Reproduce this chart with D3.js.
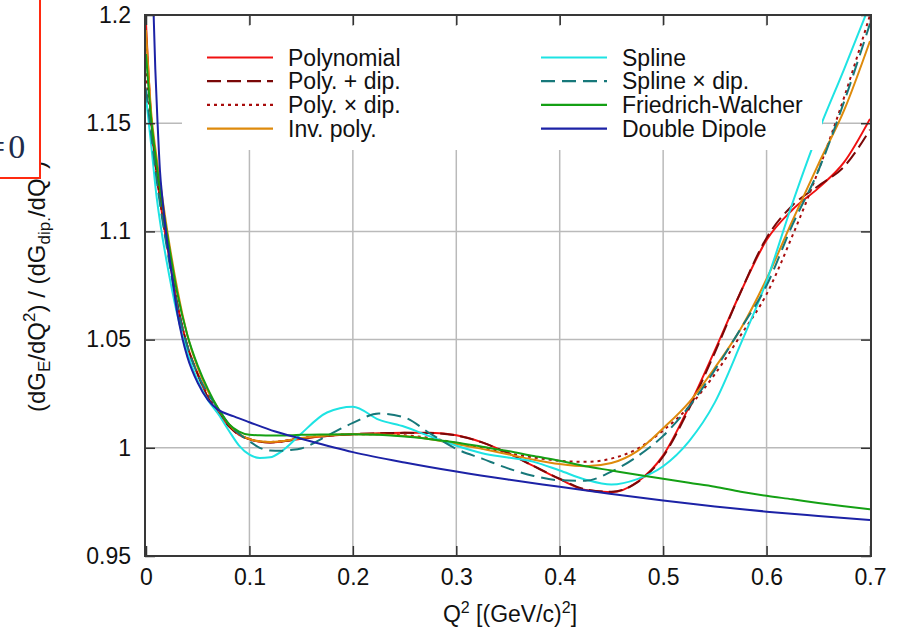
<!DOCTYPE html>
<meta charset="utf-8">
<style>
body { margin: 0; background: #fff; }
svg { display: block; font-family: "Liberation Sans", Arial, sans-serif; }
.grid line { stroke: #bababa; stroke-width: 1.5; }
.curve { fill: none; stroke-width: 2; stroke-linejoin: round; }
.axis text { font-size: 23px; fill: #111; }
.axis line { stroke: #333; stroke-width: 1.5; }
</style>
<body>
<svg width="902" height="631"></svg>
<script src="https://d3js.org/d3.v7.min.js"></script>
<script>

// Q^2 grid shared by the fitted curves
var q = [0, 0.005, 0.01, 0.015, 0.02, 0.03, 0.04, 0.05, 0.06, 0.07,
         0.08, 0.09, 0.1, 0.11, 0.12, 0.13, 0.14, 0.15, 0.175, 0.2,
         0.225, 0.25, 0.275, 0.3, 0.325, 0.35, 0.375, 0.4, 0.425, 0.45,
         0.475, 0.5, 0.525, 0.55, 0.575, 0.6, 0.625, 0.65, 0.675, 0.7];

var polynomial = [1.196, 1.152, 1.128, 1.110, 1.095, 1.067, 1.047, 1.034, 1.023, 1.016,
                  1.010, 1.006, 1.004, 1.0028, 1.0025, 1.0028, 1.0035, 1.0042, 1.0055, 1.0063,
                  1.0067, 1.0070, 1.0069, 1.0058, 1.0025, 0.9975, 0.9915, 0.9855, 0.9805, 0.9795,
                  0.9842, 0.9965, 1.019, 1.045, 1.072, 1.096, 1.110, 1.120, 1.132, 1.152];

var polyPlusDip = [1.190, 1.152, 1.128, 1.110, 1.095, 1.067, 1.047, 1.034, 1.023, 1.016,
                   1.010, 1.006, 1.004, 1.0028, 1.0025, 1.0028, 1.0035, 1.0042, 1.0055, 1.0063,
                   1.0067, 1.0069, 1.0068, 1.0057, 1.0025, 0.9975, 0.9915, 0.9857, 0.9808, 0.9797,
                   0.9840, 0.9960, 1.018, 1.044, 1.072, 1.097, 1.112, 1.121, 1.130, 1.147];

var polyTimesDip = [1.173, 1.148, 1.127, 1.110, 1.095, 1.067, 1.047, 1.034, 1.024, 1.017,
                    1.011, 1.0065, 1.004, 1.003, 1.0027, 1.003, 1.0037, 1.0045, 1.0057, 1.0063,
                    1.0063, 1.0058, 1.0045, 1.0022, 0.9998, 0.9975, 0.9955, 0.994, 0.9935, 0.995,
                    0.9995, 1.008, 1.019, 1.034, 1.052, 1.071, 1.098, 1.128, 1.162, 1.200];

var invPoly = [1.193, 1.155, 1.135, 1.118, 1.102, 1.074, 1.052, 1.037, 1.026, 1.018,
               1.011, 1.0065, 1.004, 1.003, 1.0027, 1.003, 1.0037, 1.0045, 1.0057, 1.0063,
               1.0062, 1.0055, 1.004, 1.0018, 0.9995, 0.997, 0.9945, 0.9925, 0.9915, 0.993,
               0.9985, 1.009, 1.021, 1.037, 1.055, 1.078, 1.105, 1.131, 1.156, 1.188];

var spline = [1.162, 1.140, 1.117, 1.100, 1.086, 1.062, 1.044, 1.031, 1.022, 1.0155,
              1.008, 1.001, 0.9968, 0.9953, 0.9956, 0.998, 1.002, 1.0065, 1.0163, 1.019,
              1.013, 1.0097, 1.0052, 1.001, 0.9975, 0.9955, 0.9935, 0.9895, 0.9853, 0.983,
              0.9855, 0.9915, 1.003, 1.021, 1.048, 1.077, 1.113, 1.146, 1.175, 1.205];

var splineTimesDip = [1.166, 1.145, 1.125, 1.108, 1.093, 1.066, 1.047, 1.034, 1.025, 1.018,
                      1.011, 1.0065, 1.003, 1.0, 0.9987, 0.9986, 0.999, 0.9997, 1.0055, 1.0115,
                      1.0158, 1.014, 1.0065, 0.9995, 0.995, 0.9905, 0.987, 0.985, 0.9848, 0.989,
                      0.996, 1.0055, 1.019, 1.036, 1.055, 1.075, 1.103, 1.128, 1.160, 1.196];

var friedrichWalcher = [1.182, 1.152, 1.132, 1.115, 1.100, 1.072, 1.052, 1.038, 1.027, 1.018,
                        1.011, 1.0075, 1.006, 1.0058, 1.0057, 1.0057, 1.0058, 1.006, 1.0062, 1.0063,
                        1.006, 1.0052, 1.004, 1.0025, 1.0005, 0.9985, 0.9962, 0.994, 0.9915, 0.9895,
                        0.9875, 0.9857, 0.9838, 0.982, 0.9797, 0.9778, 0.9762, 0.9745, 0.973, 0.9716];

// the double dipole curve needs its own grid near Q^2 = 0
var qDipole = [0.0065, 0.0074, 0.009, 0.0112, 0.0135, 0.016, 0.02, 0.025, 0.03, 0.035,
               0.04, 0.05, 0.06, 0.07, 0.085, 0.1, 0.125, 0.15, 0.2, 0.25,
               0.3, 0.35, 0.4, 0.45, 0.5, 0.55, 0.6, 0.65, 0.7];
var doubleDipole = [1.215, 1.2, 1.175, 1.15, 1.128, 1.1145, 1.097, 1.08, 1.063, 1.051,
                    1.042, 1.03, 1.022, 1.0175, 1.0145, 1.0118, 1.0075, 1.0042, 0.998, 0.9932,
                    0.989, 0.9853, 0.982, 0.9787, 0.9756, 0.9729, 0.9705, 0.9685, 0.9666];

var xTicks = [0, 0.1, 0.2, 0.3, 0.4, 0.5, 0.6, 0.7];
var yTicks = [0.95, 1, 1.05, 1.1, 1.15, 1.2];
var yTickLabels = ["0.95", "1", "1.05", "1.1", "1.15", "1.2"];

var series = [
  {name: "Polynomial",        xs: q, ys: polynomial,       color: "#f01010", dash: null,  col: 0, row: 0},
  {name: "Poly. + dip.",      xs: q, ys: polyPlusDip,      color: "#7a0808", dash: "14,6", col: 0, row: 1},
  {name: "Poly. \u00d7 dip.", xs: q, ys: polyTimesDip,     color: "#a80c0c", dash: "3,4", col: 0, row: 2},
  {name: "Inv. poly.",        xs: q, ys: invPoly,          color: "#de8a0c", dash: null,  col: 0, row: 3},
  {name: "Spline",            xs: q, ys: spline,           color: "#1ee3e3", dash: null,  col: 1, row: 0},
  {name: "Spline \u00d7 dip.",xs: q, ys: splineTimesDip,   color: "#17787a", dash: "14,7", col: 1, row: 1},
  {name: "Friedrich-Walcher", xs: q, ys: friedrichWalcher, color: "#14a014", dash: null,  col: 1, row: 2},
  {name: "Double Dipole",     xs: qDipole, ys: doubleDipole, color: "#1c22a6", dash: null, col: 1, row: 3}
];

var svg = d3.select("svg");

var x = d3.scaleLinear().domain([0, 0.7]).range([146, 870]);
var y = d3.scaleLinear().domain([0.95, 1.2]).range([556, 15]);

svg.append("defs").append("clipPath")
    .attr("id", "plot")
  .append("rect")
    .attr("x", 145).attr("y", 15)
    .attr("width", 726).attr("height", 541);

// grid
var grid = svg.append("g").attr("class", "grid");
grid.selectAll(".gx")
  .data(xTicks.slice(1, -1))
  .enter().append("line")
    .attr("x1", function(d) { return x(d); })
    .attr("x2", function(d) { return x(d); })
    .attr("y1", y(0.95)).attr("y2", y(1.2));
grid.selectAll(".gy")
  .data(yTicks.slice(1, -1))
  .enter().append("line")
    .attr("y1", function(d) { return y(d); })
    .attr("y2", function(d) { return y(d); })
    .attr("x1", 145).attr("x2", 871);

// curves
var line = d3.line()
    .x(function(d) { return x(d[0]); })
    .y(function(d) { return y(d[1]); })
    .curve(d3.curveMonotoneX);

svg.append("g")
    .attr("clip-path", "url(#plot)")
  .selectAll("path")
  .data(series)
  .enter().append("path")
    .attr("class", "curve")
    .attr("stroke", function(d) { return d.color; })
    .attr("stroke-dasharray", function(d) { return d.dash; })
    .attr("d", function(d) { return line(d3.zip(d.xs, d.ys)); });

// legend (white box hides grid and curves beneath)
var legend = svg.append("g");
legend.append("rect")
    .attr("x", 182).attr("y", 26)
    .attr("width", 640).attr("height", 124)
    .attr("fill", "#fff");

var colX = [207, 541];
var entry = legend.selectAll(".entry")
  .data(series)
  .enter().append("g")
    .attr("transform", function(d) { return "translate(" + colX[d.col] + "," + (57.5 + d.row * 23.7) + ")"; });
entry.append("line")
    .attr("x1", 0).attr("x2", 66)
    .attr("stroke", function(d) { return d.color; })
    .attr("stroke-width", 2.2)
    .attr("stroke-dasharray", function(d) { return d.dash; });
entry.append("text")
    .attr("x", 81).attr("y", 8)
    .attr("font-size", 23)
    .attr("fill", "#111")
    .text(function(d) { return d.name; });

// axes with inward ticks
var gx = svg.append("g").attr("class", "axis")
    .attr("transform", "translate(0,556)")
    .call(d3.axisBottom(x).tickValues(xTicks).tickSize(-10).tickPadding(13)
      .tickFormat(function(d) { return d3.format("")(d); }));
gx.select(".domain").remove();

var gt = svg.append("g").attr("class", "axis")
    .attr("transform", "translate(0,15)")
    .call(d3.axisTop(x).tickValues(xTicks).tickSize(-10).tickFormat(""));
gt.select(".domain").remove();

var gy = svg.append("g").attr("class", "axis")
    .attr("transform", "translate(145,0)")
    .call(d3.axisLeft(y).tickValues(yTicks).tickSize(-10).tickPadding(14)
      .tickFormat(function(d, i) { return yTickLabels[i]; }));
gy.select(".domain").remove();

var gr = svg.append("g").attr("class", "axis")
    .attr("transform", "translate(871,0)")
    .call(d3.axisRight(y).tickValues(yTicks).tickSize(-10).tickFormat(""));
gr.select(".domain").remove();

// frame
svg.append("rect")
    .attr("x", 145).attr("y", 15)
    .attr("width", 726).attr("height", 541)
    .attr("fill", "none")
    .attr("stroke", "#383838")
    .attr("stroke-width", 2);

// axis titles
var xt = svg.append("text")
    .attr("x", 510).attr("y", 622)
    .attr("text-anchor", "middle")
    .attr("font-size", 23)
    .attr("fill", "#111");
xt.append("tspan").text("Q");
xt.append("tspan").attr("font-size", 16).attr("dy", -9).text("2");
xt.append("tspan").attr("dy", 9).text(" [(GeV/c)");
xt.append("tspan").attr("font-size", 16).attr("dy", -9).text("2");
xt.append("tspan").attr("dy", 9).text("]");

var yt = svg.append("text")
    .attr("transform", "translate(45,412) rotate(-90)")
    .attr("font-size", 24)
    .attr("fill", "#111");
yt.append("tspan").text("(dG");
yt.append("tspan").attr("font-size", 17).attr("dy", 5).text("E");
yt.append("tspan").attr("dy", -5).text("/dQ");
yt.append("tspan").attr("font-size", 17).attr("dy", -10).text("2");
yt.append("tspan").attr("dy", 10).text(") / (dG");
yt.append("tspan").attr("font-size", 17).attr("dy", 5).text("dip.");
yt.append("tspan").attr("dy", -5).text("/dQ");
yt.append("tspan").attr("font-size", 17).attr("dy", -10).text("2");
yt.append("tspan").attr("dy", 10).text(")");

// cropped red box in the corner (covers the end of the y title)
svg.append("rect")
    .attr("x", -4).attr("y", -4)
    .attr("width", 44).attr("height", 182)
    .attr("fill", "#fff")
    .attr("stroke", "#ff2a10")
    .attr("stroke-width", 2);
var corner = svg.append("text")
    .attr("x", -14).attr("y", 158)
    .attr("font-family", "'Liberation Serif', 'DejaVu Serif', serif")
    .attr("font-size", 34)
    .attr("fill", "#1d2c4c");
corner.append("tspan").text("=");
corner.append("tspan").attr("dx", 3).text("0");

</script>
</body>
